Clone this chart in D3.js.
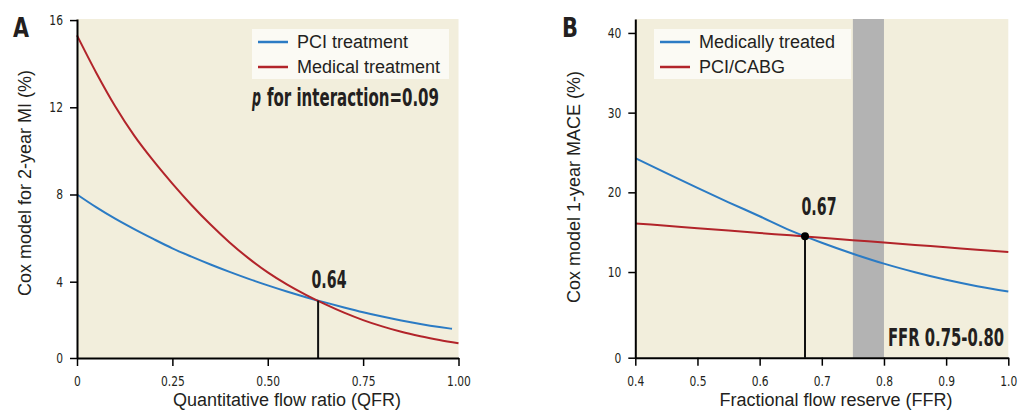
<!DOCTYPE html>
<html lang="en">
<head>
<meta charset="UTF-8">
<title>QFR / FFR Cox models</title>
<script src="https://cdn.jsdelivr.net/npm/d3@7"></script>
<style>
  body { margin: 0; background: #fff; }
  text { font-family: "Liberation Sans", Arial, sans-serif; fill: #231f20; }
  .narrow { font-family: "DejaVu Sans Condensed", "DejaVu Sans", sans-serif; }
</style>
</head>
<body>
<script>
// ---- Panel A: quantitative flow ratio ----
const qfr = [0, 0.05, 0.1, 0.15, 0.2, 0.25, 0.3, 0.35, 0.4, 0.45, 0.5, 0.55, 0.6, 0.65, 0.7, 0.75, 0.8, 0.85, 0.9, 0.95, 1.0];
const qfrPci = [0, 0.05, 0.1, 0.15, 0.2, 0.25, 0.3, 0.35, 0.4, 0.45, 0.5, 0.55, 0.6, 0.65, 0.7, 0.75, 0.8, 0.85, 0.9, 0.95, 0.983];
const pciTreatment = [8.0, 7.42, 6.89, 6.41, 5.96, 5.53, 5.15, 4.79, 4.45, 4.13, 3.83, 3.55, 3.29, 3.05, 2.82, 2.6, 2.4, 2.22, 2.06, 1.92, 1.84];
const medicalTreatment = [15.3, 13.6, 12.05, 10.7, 9.55, 8.5, 7.52, 6.62, 5.8, 5.07, 4.43, 3.88, 3.4, 2.97, 2.58, 2.24, 1.95, 1.7, 1.5, 1.33, 1.18];
const qfrTicks = [0, 0.25, 0.5, 0.75, 1.0];
const qfrTickLabels = ["0", "0.25", "0.50", "0.75", "1.00"];
// the printed axis starts a little above zero but the bottom tick reads "0"
const miTicks = [0.5, 4, 8, 12, 16];
const miTickLabels = ["0", "4", "8", "12", "16"];
const qfrCut = 0.632, qfrCutValue = 3.13;

// ---- Panel B: fractional flow reserve ----
const ffr = [0.4, 0.45, 0.5, 0.55, 0.6, 0.65, 0.7, 0.75, 0.8, 0.85, 0.9, 0.95, 1.0];
const medicallyTreated = [24.3, 22.4, 20.55, 18.75, 17.0, 15.2, 13.68, 12.3, 11.05, 9.97, 9.02, 8.22, 7.55];
const pciCabg = [16.1, 15.8, 15.5, 15.2, 14.9, 14.6, 14.3, 14.0, 13.7, 13.4, 13.1, 12.8, 12.5];
const ffrTicks = [0.4, 0.5, 0.6, 0.7, 0.8, 0.9, 1.0];
const ffrTickLabels = ["0.4", "0.5", "0.6", "0.7", "0.8", "0.9", "1.0"];
// same story here: the axis bottom sits just under zero
const maceTicks = [-0.75, 10, 20, 30, 40];
const maceTickLabels = ["0", "10", "20", "30", "40"];
const ffrCut = 0.673, ffrCutValue = 14.48;
const greyZone = [0.75, 0.80];

const blue = "#2b7bc4", red = "#b2242a", bg = "#f2eedc";

const svg = d3.select("body").append("svg")
  .attr("width", 1019).attr("height", 412);

// no narrow font installed, so squeeze the condensed one horizontally
function squeeze(sel, k) {
  sel.each(function () {
    const w = this.getComputedTextLength();
    d3.select(this).attr("textLength", w * k).attr("lengthAdjust", "spacingAndGlyphs");
  });
}
function fitTo(sel, w) {
  sel.attr("textLength", w).attr("lengthAdjust", "spacingAndGlyphs");
}

function boldLabel(g, x, y, anchor, text, width) {
  return g.append("text")
    .attr("class", "narrow")
    .attr("x", x).attr("y", y)
    .attr("text-anchor", anchor)
    .style("font-size", "24px").style("font-weight", "bold")
    .text(text)
    .call(fitTo, width);
}

function panel(opt) {
  const g = svg.append("g");
  const x = opt.x, y = opt.y;
  const [x0, x1] = x.range(), [y0, y1] = y.range();

  g.append("rect")
    .attr("x", x0).attr("y", y1)
    .attr("width", x1 - x0).attr("height", y0 - y1)
    .attr("fill", bg);

  if (opt.band) {
    g.append("rect")
      .attr("x", x(opt.band[0])).attr("y", y1)
      .attr("width", x(opt.band[1]) - x(opt.band[0])).attr("height", y0 - y1)
      .attr("fill", "#b3b3b3");
  }

  const line = d3.line().curve(d3.curveMonotoneX);
  opt.series.forEach(s => {
    g.append("path")
      .attr("d", line(s.xs.map((d, i) => [x(d), y(s.ys[i])])))
      .attr("fill", "none")
      .attr("stroke", s.color)
      .attr("stroke-width", 2);
  });

  // drop line at the crossing
  g.append("line")
    .attr("x1", x(opt.cut)).attr("x2", x(opt.cut))
    .attr("y1", y(opt.cutValue)).attr("y2", y0)
    .attr("stroke", "#111").attr("stroke-width", 2);
  if (opt.dot) {
    g.append("circle")
      .attr("cx", x(opt.cut)).attr("cy", y(opt.cutValue))
      .attr("r", 4).attr("fill", "#000");
  }

  // axes
  const xAxis = g.append("g")
    .attr("transform", `translate(0,${y0})`)
    .call(d3.axisBottom(x).tickValues(opt.xTicks).tickSize(8).tickSizeOuter(0).tickPadding(10)
      .tickFormat((d, i) => opt.xTickLabels[i]));
  const yAxis = g.append("g")
    .attr("transform", `translate(${x0},0)`)
    .call(d3.axisLeft(y).tickValues(opt.yTicks).tickSize(7).tickSizeOuter(0).tickPadding(7)
      .tickFormat((d, i) => opt.yTickLabels[i]));
  [xAxis, yAxis].forEach(a => {
    a.select(".domain").attr("stroke", "#000").attr("stroke-width", 2);
    a.selectAll(".tick line").attr("stroke", "#000").attr("stroke-width", 1.5);
    a.selectAll(".tick text").attr("class", "narrow")
      .style("font-size", "14px").attr("fill", "#231f20")
      .call(squeeze, 0.85);
  });

  // axis titles
  g.append("text")
    .attr("x", opt.xTitleX).attr("y", 406)
    .attr("text-anchor", "middle")
    .style("font-size", "18px")
    .text(opt.xTitle);
  g.append("text")
    .attr("transform", `translate(${opt.yTitleX},${opt.yTitleY}) rotate(-90)`)
    .attr("text-anchor", "middle")
    .style("font-size", "18px")
    .text(opt.yTitle);

  // panel letter
  boldLabel(g, opt.letterX, 37, "start", opt.letter, 16)
    .style("font-size", "26px");

  // legend
  const lg = g.append("g").attr("transform", `translate(${opt.legendX},29)`);
  lg.append("rect")
    .attr("width", 197).attr("height", 50)
    .attr("fill", "#fbfaf4");
  opt.series.forEach((s, i) => {
    lg.append("line")
      .attr("x1", 6).attr("x2", 36)
      .attr("y1", 13 + i * 25).attr("y2", 13 + i * 25)
      .attr("stroke", s.color).attr("stroke-width", 2.5);
    lg.append("text")
      .attr("x", 45).attr("y", 19 + i * 25)
      .style("font-size", "18px")
      .text(s.name);
  });

  // crossing label
  boldLabel(g, opt.cutLabelX, opt.cutLabelY, "middle", opt.cutLabel, 35);

  return g;
}

const gA = panel({
  x: d3.scaleLinear().domain([0, 1]).range([77, 458.5]),
  y: d3.scaleLinear().domain([0.5, 16.05]).range([358, 19]),
  series: [
    { name: "PCI treatment", xs: qfrPci, ys: pciTreatment, color: blue },
    { name: "Medical treatment", xs: qfr, ys: medicalTreatment, color: red }
  ],
  xTicks: qfrTicks, xTickLabels: qfrTickLabels,
  yTicks: miTicks, yTickLabels: miTickLabels,
  cut: qfrCut, cutValue: qfrCutValue, dot: false,
  cutLabel: "0.64", cutLabelX: 329, cutLabelY: 288,
  xTitle: "Quantitative flow ratio (QFR)", xTitleX: 287,
  yTitle: "Cox model for 2-year MI (%)", yTitleX: 31, yTitleY: 183,
  letter: "A", letterX: 13,
  legendX: 252
});

boldLabel(gA, 252, 106, "start", "p", 9).style("font-style", "italic");
boldLabel(gA, 267, 106, "start", "for interaction=0.09", 172);

const gB = panel({
  x: d3.scaleLinear().domain([0.4, 1.0]).range([635.3, 1008.3]),
  y: d3.scaleLinear().domain([-0.75, 41.75]).range([357.7, 19]),
  band: greyZone,
  series: [
    { name: "Medically treated", xs: ffr, ys: medicallyTreated, color: blue },
    { name: "PCI/CABG", xs: ffr, ys: pciCabg, color: red }
  ],
  xTicks: ffrTicks, xTickLabels: ffrTickLabels,
  yTicks: maceTicks, yTickLabels: maceTickLabels,
  cut: ffrCut, cutValue: ffrCutValue, dot: true,
  cutLabel: "0.67", cutLabelX: 819, cutLabelY: 215,
  xTitle: "Fractional flow reserve (FFR)", xTitleX: 836,
  yTitle: "Cox model 1-year MACE (%)", yTitleX: 580, yTitleY: 187,
  letter: "B", letterX: 562,
  legendX: 654
});

boldLabel(gB, 888, 345.5, "start", "FFR 0.75-0.80", 116);
</script>
</body>
</html>
